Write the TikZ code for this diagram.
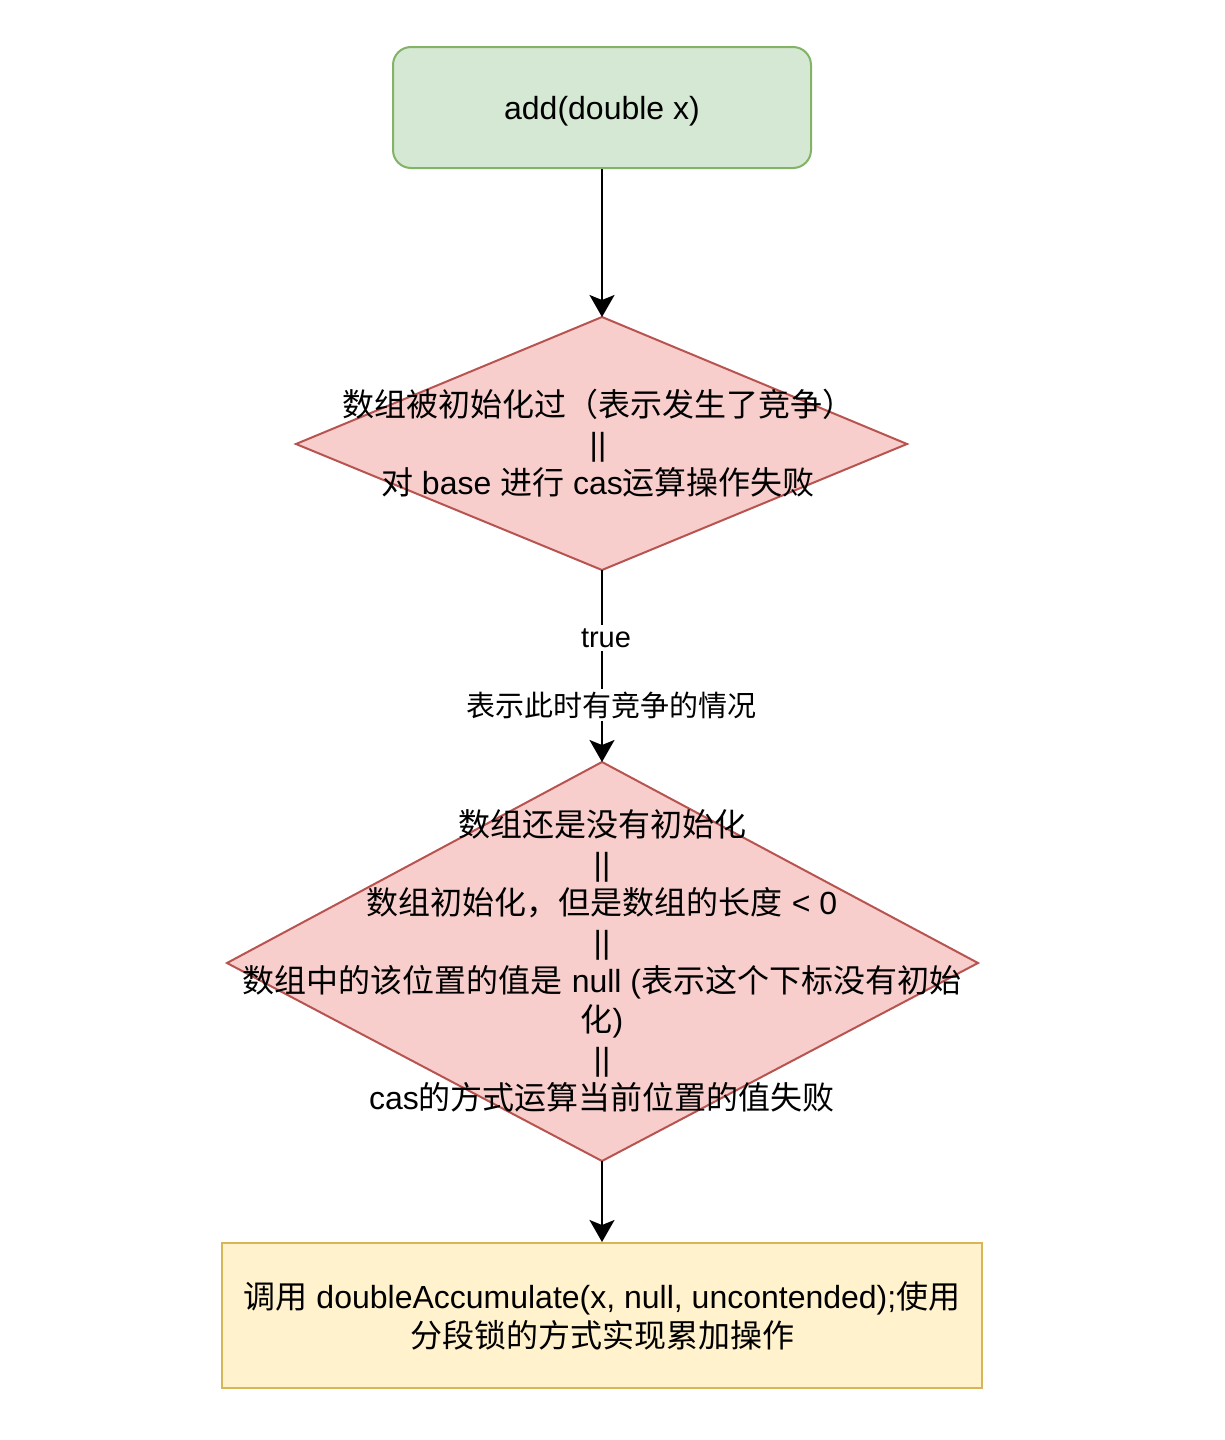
\documentclass[tikz,border=0pt]{standalone}
\usepackage{fontspec}
\setmainfont{Liberation Sans}
\newfontfamily\zhfont{Noto Sans CJK SC}
\newcommand\zh[1]{{\zhfont #1}}
\usetikzlibrary{shapes.geometric,arrows.meta}
\definecolor{gfill}{HTML}{D5E8D4}
\definecolor{gline}{HTML}{82B366}
\definecolor{rfill}{HTML}{F8CECC}
\definecolor{rline}{HTML}{B85450}
\definecolor{yfill}{HTML}{FFF2CC}
\definecolor{yline}{HTML}{D6B656}
\tikzset{
  startbox/.style={draw=gline, fill=gfill, line width=2pt, rounded corners=18pt, minimum width=418pt, minimum height=121pt, inner sep=0pt},
  decbox/.style={draw=rline, fill=rfill, line width=2pt},
  actbox/.style={draw=yline, fill=yfill, line width=2pt, minimum width=760pt, minimum height=145pt, inner sep=0pt},
  bigtext/.style={align=center, font=\fontsize{32}{39}\selectfont, inner sep=0pt},
  edgetext/.style={align=center, font=\fontsize{29}{34}\selectfont, fill=white, inner sep=3pt},
  flow/.style={line width=2pt, -{Stealth[length=22pt,width=25pt,inset=5pt]}}
}
\begin{document}
\begin{tikzpicture}[x=1pt,y=-1pt]
\useasboundingbox (0,0) rectangle (1224,1440);
\fill[white] (0,0) rectangle (1224,1440);

\node[startbox] (s) at (602,107.5) {};
\node[bigtext] (st) at (602,111) {add(double x)};

\draw[decbox] (602,317) -- (907,444) -- (602,570) -- (296,444) -- cycle;
\coordinate (d1n) at (602,317);
\coordinate (d1s) at (602,570);
\node[bigtext] (d1) at (598,443) {\zh{数组被初始化过（表示发生了竞争）}\\||\\\zh{对} base \zh{进行} cas\zh{运算操作失败}};

\draw[decbox] (602,762) -- (978,963) -- (602,1161) -- (227,963) -- cycle;
\coordinate (d2n) at (602,762);
\coordinate (d2s) at (602,1161);
\node[bigtext] (d2) at (602,961) {\zh{数组还是没有初始化}\\||\\\zh{数组初始化，但是数组的长度} {<} 0\\||\\\zh{数组中的该位置的值是} null (\zh{表示这个下标没有初始}\\\zh{化})\\||\\cas\zh{的方式运算当前位置的值失败}};

\node[actbox, bigtext] (a) at (602,1315.5) {\zh{调用} doubleAccumulate(x, null, uncontended);\zh{使用}\\\zh{分段锁的方式实现累加操作}};

\draw[flow] (s.south) -- (d1n);
\draw[flow] (d1s) -- (d2n);
\draw[flow] (d2s) -- (a.north);

\node[edgetext] (t1) at (606,638) {true};
\node[edgetext] (t2) at (611,705) {\zh{表示此时有竞争的情况}};
\end{tikzpicture}
\end{document}
